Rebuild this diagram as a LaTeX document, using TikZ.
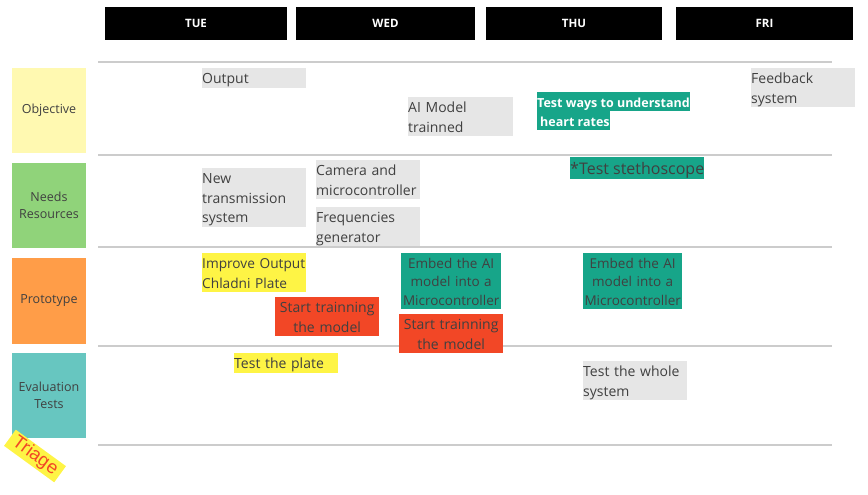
\documentclass[tikz,border=0pt]{standalone}
\usepackage{fontspec}
\setmainfont{Open Sans}
\newfontfamily\arialf{Liberation Sans}
\definecolor{notegray}{HTML}{E6E6E6}
\definecolor{noteteal}{HTML}{17A589}
\definecolor{noteyellow}{HTML}{FEF445}
\definecolor{notered}{HTML}{F24726}
\definecolor{catyellow}{HTML}{FFF9B1}
\definecolor{catgreen}{HTML}{90D37A}
\definecolor{catorange}{HTML}{FF9D48}
\definecolor{catcyan}{HTML}{67C6C0}
\definecolor{txt}{HTML}{404040}
\definecolor{rulegray}{HTML}{CCCCCC}
\newcommand\myNf{\fontsize{14pt}{19.5pt}\selectfont\hyphenpenalty=10000\exhyphenpenalty=10000}
\newcommand\mySf{\fontsize{13.5pt}{18.7pt}\selectfont\hyphenpenalty=10000\exhyphenpenalty=10000}
\newcommand\sL{\rule[-4.1pt]{0pt}{19.5pt}}
\newcommand\sS{\rule[-3.9pt]{0pt}{18.7pt}}
\begin{document}
\begin{tikzpicture}[x=1pt,y=-1pt,
  hdr/.style={fill=black, text=white, inner sep=0pt, minimum height=33pt, font=\fontsize{11.5pt}{14pt}\selectfont\bfseries},
  cat/.style={inner sep=0pt, minimum width=74pt, text=txt, align=center, font=\fontsize{12.5pt}{17pt}\selectfont},
  note/.style={rectangle, inner sep=0pt, anchor=north west, font=\myNf, text=txt},
  gnote/.style={note, fill=notegray, align=left},
  ynote/.style={note, fill=noteyellow, align=left},
  rnote/.style={note, fill=notered, align=center},
  tnote/.style={note, fill=noteteal, align=center, font=\mySf},
  hline/.style={draw=rulegray, line width=1.2pt}
]
\useasboundingbox (0,0) rectangle (868,495);

% headers
\node[hdr, minimum width=182pt] (tue) at (196,23.5) {TUE};
\node[hdr, minimum width=179pt] (wed) at (385.5,23.5) {WED};
\node[hdr, minimum width=176pt] (thu) at (574,23.5) {THU};
\node[hdr, minimum width=177pt] (fri) at (764.5,23.5) {FRI};

% grid lines
\foreach \yy [count=\i] in {62,155,247,346,445}{
  \coordinate (l\i) at (98,\yy);
  \coordinate (r\i) at (832,\yy);
  \draw[hline] (l\i) -- (r\i);
}

% categories
\node[cat, fill=catyellow, minimum height=85pt] (obj) at (49,110.5) {\raisebox{-2pt}{Objective}};
\node[cat, fill=catgreen, minimum height=85pt] (need) at (49,205.5) {Needs\\Resources};
\node[cat, fill=catorange, minimum height=86pt] (proto) at (49,301) {\raisebox{-1pt}{Prototype}};
\node[cat, fill=catcyan, minimum height=85pt] (eval) at (49,395.5) {Evaluation\\Tests};

% triage tag
\node[fill=noteyellow, text=notered, rotate=-36, inner sep=0pt, minimum width=62pt, minimum height=20pt,
  font=\arialf\fontsize{18.5pt}{20pt}\selectfont] (triage) at (35,456) {Triage};

% objective row
\node[gnote, text width=104pt] (out) at (202,68) {\sL Output};
\node[gnote, text width=105pt] (aim) at (408,97) {\sL AI Model\\\sL trainned};
\node[note, fill=noteteal, text=white, font=\fontsize{12.5pt}{19pt}\selectfont\bfseries] (tw1) at (537,92) {\rule[-4pt]{0pt}{19pt}Test ways to understand};
\node[note, fill=noteteal, text=white, font=\fontsize{12.5pt}{19pt}\selectfont\bfseries] (tw2) at (537,111) {\rule[-4pt]{0pt}{19pt}\hspace{3pt}heart rates};
\node[gnote, text width=104pt] (fb) at (751,68) {\sL Feedback\\\sL system};

% needs resources row
\node[gnote, text width=104pt] (nts) at (202,168) {\sL New\\\sL transmission\\\sL system};
\node[gnote, text width=104pt] (cam) at (316,160) {\sL Camera and\\\sL microcontroller};
\node[gnote, text width=104pt] (freq) at (316,207) {\sL Frequencies\\\sL generator};
\node[note, fill=noteteal, text=txt, font=\fontsize{16pt}{22pt}\selectfont] (steth) at (570,157) {\rule[-5pt]{0pt}{22pt}*Test stethoscope};

% prototype row
\node[ynote, text width=104pt, font=\fontsize{13.7pt}{19.5pt}\selectfont] (imp) at (202,253) {\sL\mbox{Improve Output}\\\sL Chladni Plate};
\node[rnote, text width=104pt] (st1) at (275,297) {\sL Start trainning\\\sL the model};
\node[tnote, text width=100pt] (emb1) at (401,253) {\sS Embed the AI\\\sS model into a\\\sS Microcontroller};
\node[rnote, text width=104pt] (st2) at (399,314) {\sL Start trainning\\\sL the model};
\node[tnote, text width=99pt] (emb2) at (583,253) {\sS Embed the AI\\\sS model into a\\\sS Microcontroller};

% evaluation row
\node[ynote, text width=104pt] (tp) at (234,353) {\sL Test the plate};
\node[gnote, text width=104pt] (tws) at (583,361) {\sL Test the whole\\\sL system};
\end{tikzpicture}
\end{document}
